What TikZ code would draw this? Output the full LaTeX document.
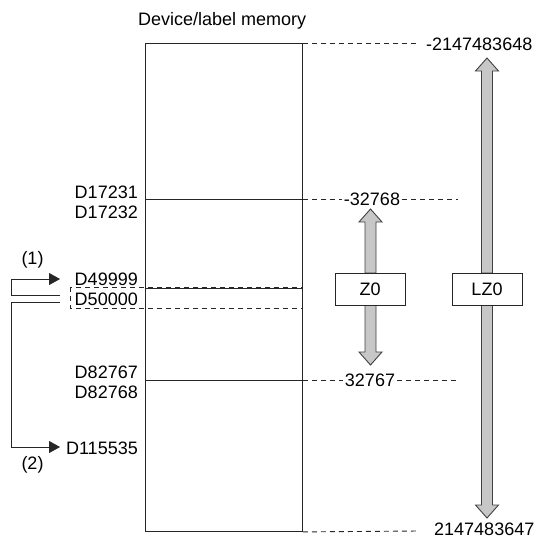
\documentclass[tikz,border=0pt]{standalone}
\usepackage{fontspec}
\setmainfont{Liberation Sans}
\usetikzlibrary{arrows.meta}
\newcommand{\fatarrow}[3]{% x centre, base y, tip y
  \pgfmathsetmacro\hsg{ifthenelse(#3>#2,13,-13)}
  \draw[fat] (#1-5.5,#2) -- (#1-5.5,#3-\hsg) -- (#1-11.5,#3-\hsg) -- (#1,#3)
     -- (#1+11.5,#3-\hsg) -- (#1+5.5,#3-\hsg) -- (#1+5.5,#2) -- cycle;}
\begin{document}
\begin{tikzpicture}[x=1pt,y=-1pt, font=\fontsize{18}{21}\selectfont,
  line/.style={draw=black!85, line width=0.9pt},
  dsh/.style={draw=black!85, line width=0.9pt, dash pattern=on 5pt off 4pt},
  lbl/.style={inner sep=0pt, anchor=base east},
  val/.style={inner ysep=0pt, inner xsep=2pt, anchor=base},
  reg/.style={draw=black!85, fill=white, line width=0.9pt, minimum width=70pt, minimum height=32pt, inner sep=0pt},
  fat/.style={draw=black!75, fill=black!22, line width=0.9pt, line join=miter},
  ptr/.style={draw=black!85, line width=0.9pt, -{Triangle[length=11pt,width=12pt]}}
]
\useasboundingbox (0,0) rectangle (543,539);

% title
\node[inner sep=0pt, anchor=base west] (title) at (138,25) {Device/label memory};

% memory block
\node[draw=black!85, line width=0.9pt, minimum width=157pt, minimum height=488pt, inner sep=0pt, anchor=north west] (mem) at (145,43) {};
\coordinate (l1) at (145,199);
\coordinate (l2) at (145,288);
\coordinate (l3) at (145,380);
\draw[line] (l1) -- (l1 -| mem.east);
\draw[line] (l2) -- (l2 -| mem.east);
\draw[line] (l3) -- (l3 -| mem.east);

% selected area
\draw[dsh] (70,287) rectangle (302,308);

% device labels
\node[lbl] (d17231) at (138,198.5) {D17231};
\node[lbl] (d17232) at (138,218) {D17232};
\node[lbl] (d49999) at (138,285.5) {D49999};
\node[lbl] (d50000) at (138,305) {D50000};
\node[lbl] (d82767) at (138,378) {D82767};
\node[lbl] (d82768) at (138,398) {D82768};
\node[lbl] (d115535) at (138,454) {D115535};
\node[inner sep=0pt, anchor=base] (p1) at (32.5,264) {(1)};
\node[inner sep=0pt, anchor=base] (p2) at (32.5,469) {(2)};

% pointer arrows
\coordinate (a1s) at (60,295);
\coordinate (a1e) at (60,279);
\coordinate (a2s) at (60,302);
\coordinate (a2e) at (60,447);
\draw[ptr] (a1s) -- (11,295) -- (11,279) -- (a1e);
\draw[ptr] (a2s) -- (11,302) -- (11,447) -- (a2e);

% right-hand values
\node[inner sep=0pt, anchor=base west] (vmin) at (426,50) {-2147483648};
\node[inner sep=0pt, anchor=base west] (vmax) at (434,535) {2147483647};
\draw[dsh] (mem.north east) -- (418,43);
\draw[dsh] (mem.south east) -- (418,531);

\node[val] (zmin) at (372,205) {-32768};
\node[val] (zmax) at (370,386) {32767};
\draw[dsh] (l1 -| mem.east) -- (l1 -| zmin.west);
\draw[dsh] (l1 -| zmin.east) -- (458,199);
\draw[dsh] (l3 -| mem.east) -- (l3 -| zmax.west);
\draw[dsh] (l3 -| zmax.east) -- (458,380);

% range arrows
\fatarrow{370.5}{273}{209}
\fatarrow{370.5}{305}{365}
\fatarrow{487}{273}{58}
\fatarrow{487}{305}{518}

% index registers
\node[reg] (z0) at (370,289) {Z0};
\node[reg] (lz0) at (487,289) {LZ0};
\end{tikzpicture}
\end{document}
